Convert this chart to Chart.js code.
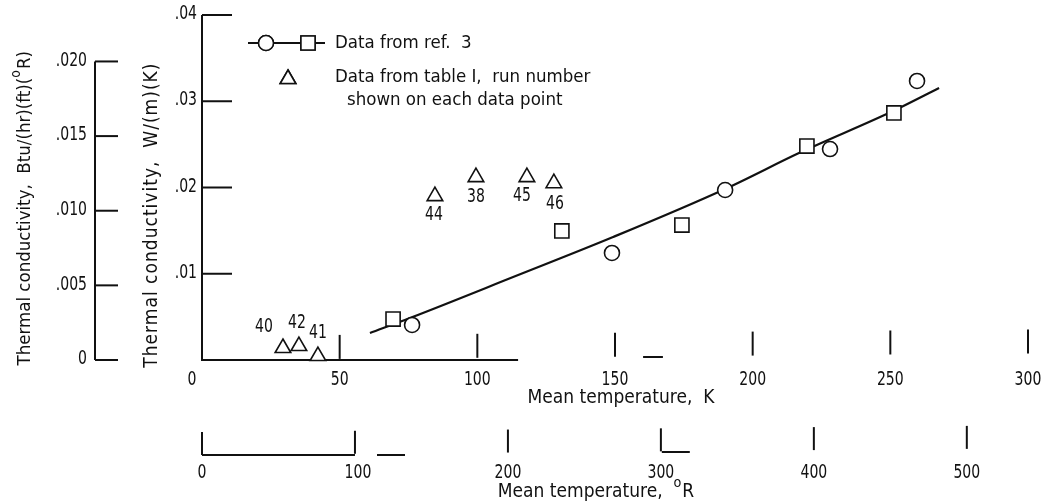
<!DOCTYPE html>
<html>
<head>
<meta charset="utf-8">
<script src="https://cdn.jsdelivr.net/npm/chart.js@4/dist/chart.umd.min.js"></script>
<style>
  html, body { margin: 0; padding: 0; background: #fff; }
  #wrap { width: 1046px; height: 504px; position: relative; }
</style>
</head>
<body>
<div id="wrap"><canvas id="chart"></canvas></div>
<script>
// mean temperature in K, thermal conductivity in W/(m)(K)
const curveK = [61, 75.5, 113, 149.3, 190, 217.2, 251, 267.7];
const curveW = [0.00313, 0.00487, 0.00962, 0.01426, 0.01983, 0.02405, 0.02887, 0.03154];
const circleK = [76.3, 148.9, 190.0, 228.1, 259.7];
const circleW = [0.00406, 0.01241, 0.01971, 0.02446, 0.03235];
const squareK = [69.4, 130.7, 174.3, 219.7, 251.3];
const squareW = [0.00475, 0.01496, 0.01565, 0.02481, 0.02864];
const runNumbers = ['40', '42', '41', '44', '38', '45', '46'];
const runK = [29.4, 35.2, 42.1, 84.6, 99.5, 118.0, 127.8];
const runW = [0.00139, 0.00162, 0.00046, 0.0190, 0.0212, 0.0212, 0.0205];

const kTicks = [0, 50, 100, 150, 200, 250, 300];
const rTicks = [0, 100, 200, 300, 400, 500];
const wTicks = [0.01, 0.02, 0.03, 0.04];
const wTickLabels = ['.01', '.02', '.03', '.04'];
const btuTicks = [0, 0.005, 0.010, 0.015, 0.020];
const btuTickLabels = ['0', '.005', '.010', '.015', '.020'];

const W_PER_BTU = 1.7307;   // 1 Btu/(hr)(ft)(R) in W/(m)(K)
const R_PER_K = 1.8;
const INK = '#111';
const FONT = '"DejaVu Sans Condensed", "DejaVu Sans", sans-serif';
const NUM_SQUEEZE = 0.78;   // numerals are set narrower than the words

// where each run number sits relative to its triangle
const runLabelOffset = [[-19, -21], [-2, -23], [0, -23], [-1, 19], [0, 20], [-5, 19], [1, 21]];

function pts(xs, ys) { return xs.map(function (x, i) { return { x: x, y: ys[i] }; }); }

function font(size) { return size + 'px ' + FONT; }

function line(ctx, x1, y1, x2, y2) {
  ctx.beginPath(); ctx.moveTo(x1, y1); ctx.lineTo(x2, y2); ctx.stroke();
}

function number(ctx, text, x, y) {
  ctx.save();
  ctx.font = font(20);
  ctx.translate(x, y);
  ctx.scale(NUM_SQUEEZE, 1);
  ctx.fillText(text, 0, 0);
  ctx.restore();
}

// text with a small raised "o" standing in for the degree sign, centred on x
function textWithDegree(ctx, before, after, x, y, size) {
  ctx.font = font(size);
  const w1 = ctx.measureText(before).width;
  ctx.font = font(size * 0.75);
  const w2 = ctx.measureText('o').width + 1;
  ctx.font = font(size);
  const w3 = ctx.measureText(after).width;
  const cx = x - (w1 + w2 + w3) / 2;
  ctx.textAlign = 'left';
  ctx.fillText(before, cx, y);
  ctx.font = font(size * 0.75);
  ctx.fillText('o', cx + w1, y - size * 0.45);
  ctx.font = font(size);
  ctx.fillText(after, cx + w1 + w2, y);
}

const drawAxes = {
  id: 'drawAxes',
  beforeDatasetsDraw(chart) {
    const ctx = chart.ctx;
    const sx = chart.scales.x, sy = chart.scales.y, sr = chart.scales.xR, sb = chart.scales.yBtu;
    const x0 = sx.getPixelForValue(0);
    const y0 = sy.getPixelForValue(0);
    const tilt = function (px) { return -(px - x0) * 0.008; };
    ctx.save();
    ctx.strokeStyle = INK;
    ctx.fillStyle = INK;
    ctx.lineWidth = 2;

    // W/(m)(K) axis
    line(ctx, x0, sy.getPixelForValue(0.04), x0, y0 + 1);
    ctx.textAlign = 'right';
    ctx.textBaseline = 'middle';
    wTicks.forEach(function (v, i) {
      const py = sy.getPixelForValue(v);
      line(ctx, x0, py, x0 + 30, py);
      number(ctx, wTickLabels[i], x0 - 5, py - 1);
    });

    // Btu/(hr)(ft)(R) axis
    const xb = x0 - 107;
    line(ctx, xb, sb.getPixelForValue(0.020), xb, sb.getPixelForValue(0));
    btuTicks.forEach(function (v, i) {
      const py = sb.getPixelForValue(v);
      line(ctx, xb, py, xb + 23, py);
      number(ctx, btuTickLabels[i], xb - 8, py - 1);
    });

    // K axis
    line(ctx, x0, y0, sx.getPixelForValue(114.8), y0);
    line(ctx, sx.getPixelForValue(160.2), y0 - 3, sx.getPixelForValue(167.4), y0 - 3);
    ctx.textAlign = 'center';
    kTicks.forEach(function (k) {
      const px = sx.getPixelForValue(k);
      const base = y0 + tilt(px);
      if (k > 0) line(ctx, px, base, px, base - 24);
      number(ctx, String(k), k === 0 ? px - 10 : px, y0 + 20);
    });
    ctx.font = font(19);
    ctx.fillText('Mean temperature,  K', (chart.chartArea.left + chart.chartArea.right) / 2 + 6, y0 + 38);

    // R axis below it
    const yr = y0 + 95;
    line(ctx, sr.getPixelForValue(0), yr, sr.getPixelForValue(100), yr);
    line(ctx, sr.getPixelForValue(114.4), yr, sr.getPixelForValue(132.7), yr);
    line(ctx, sr.getPixelForValue(300.6), yr - 3, sr.getPixelForValue(318.9), yr - 3);
    rTicks.forEach(function (r) {
      const px = sr.getPixelForValue(r);
      const base = yr + tilt(px);
      line(ctx, px, base, px, base - 23);
      number(ctx, String(r), px + (r === 100 ? 3 : 0), yr + 18);
    });
    textWithDegree(ctx, 'Mean temperature,  ', 'R', x0 + 394, yr + 37, 19);

    // rotated axis titles
    ctx.save();
    ctx.translate(x0 - 50, sy.getPixelForValue(0.0168));
    ctx.rotate(-Math.PI / 2);
    ctx.font = font(19);
    ctx.letterSpacing = '1px';
    ctx.textAlign = 'center';
    ctx.fillText('Thermal conductivity,  W/(m)(K)', 0, 0);
    ctx.restore();

    ctx.save();
    ctx.translate(x0 - 177, sy.getPixelForValue(0.0176));
    ctx.rotate(-Math.PI / 2);
    textWithDegree(ctx, 'Thermal conductivity,  Btu/(hr)(ft)(', 'R)', 0, 0, 18.5);
    ctx.restore();

    ctx.restore();
  },
  afterDatasetsDraw(chart) {
    const ctx = chart.ctx;
    const meta = chart.getDatasetMeta(2);
    ctx.save();
    ctx.fillStyle = INK;
    ctx.strokeStyle = INK;
    ctx.textAlign = 'center';
    ctx.textBaseline = 'middle';
    meta.data.forEach(function (el, i) {
      number(ctx, runNumbers[i], el.x + runLabelOffset[i][0], el.y + runLabelOffset[i][1]);
    });

    // legend
    ctx.lineWidth = 2;
    line(ctx, 248, 43, 325, 43);
    ctx.lineWidth = 1.6;
    ctx.fillStyle = '#fff';
    Chart.helpers.drawPoint(ctx, { pointStyle: 'circle', radius: 7.5, borderWidth: 1.6 }, 266, 43);
    ctx.fill(); ctx.stroke();
    Chart.helpers.drawPoint(ctx, { pointStyle: 'rect', radius: 10, borderWidth: 1.6 }, 308, 43);
    ctx.fill(); ctx.stroke();
    Chart.helpers.drawPoint(ctx, { pointStyle: 'triangle', radius: 9, borderWidth: 1.6 }, 288, 79);
    ctx.fill(); ctx.stroke();
    ctx.fillStyle = INK;
    ctx.textAlign = 'left';
    ctx.font = font(18.5);
    ctx.fillText('Data from ref.  3', 335, 43);
    ctx.fillText('Data from table I,  run number', 335, 77);
    ctx.fillText('shown on each data point', 347, 100);
    ctx.restore();
  }
};

new Chart(document.getElementById('chart'), {
  type: 'scatter',
  data: {
    datasets: [
      { data: pts(circleK, circleW), pointStyle: 'circle', pointRadius: 7.5,
        pointBackgroundColor: '#fff', pointBorderColor: INK, pointBorderWidth: 1.6, clip: false },
      { data: pts(squareK, squareW), pointStyle: 'rect', pointRadius: 10,
        pointBackgroundColor: '#fff', pointBorderColor: INK, pointBorderWidth: 1.6, clip: false },
      { data: pts(runK, runW), pointStyle: 'triangle', pointRadius: 9,
        pointBackgroundColor: '#fff', pointBorderColor: INK, pointBorderWidth: 1.6, clip: false },
      { data: pts(curveK, curveW), showLine: true, borderColor: INK, borderWidth: 2.2,
        pointRadius: 0, cubicInterpolationMode: 'monotone', clip: false }
    ]
  },
  options: {
    responsive: true, maintainAspectRatio: false, animation: false,
    layout: { padding: { left: 202, right: 18, top: 15, bottom: 144 } },
    plugins: { legend: { display: false }, tooltip: { enabled: false } },
    scales: {
      x: { type: 'linear', min: 0, max: 300, display: false },
      y: { type: 'linear', min: 0, max: 0.04, display: false },
      xR: { type: 'linear', axis: 'x', min: 0, max: 300 * R_PER_K, display: false },
      yBtu: { type: 'linear', axis: 'y', min: 0, max: 0.04 / W_PER_BTU, display: false }
    }
  },
  plugins: [drawAxes]
});
</script>
</body>
</html>
